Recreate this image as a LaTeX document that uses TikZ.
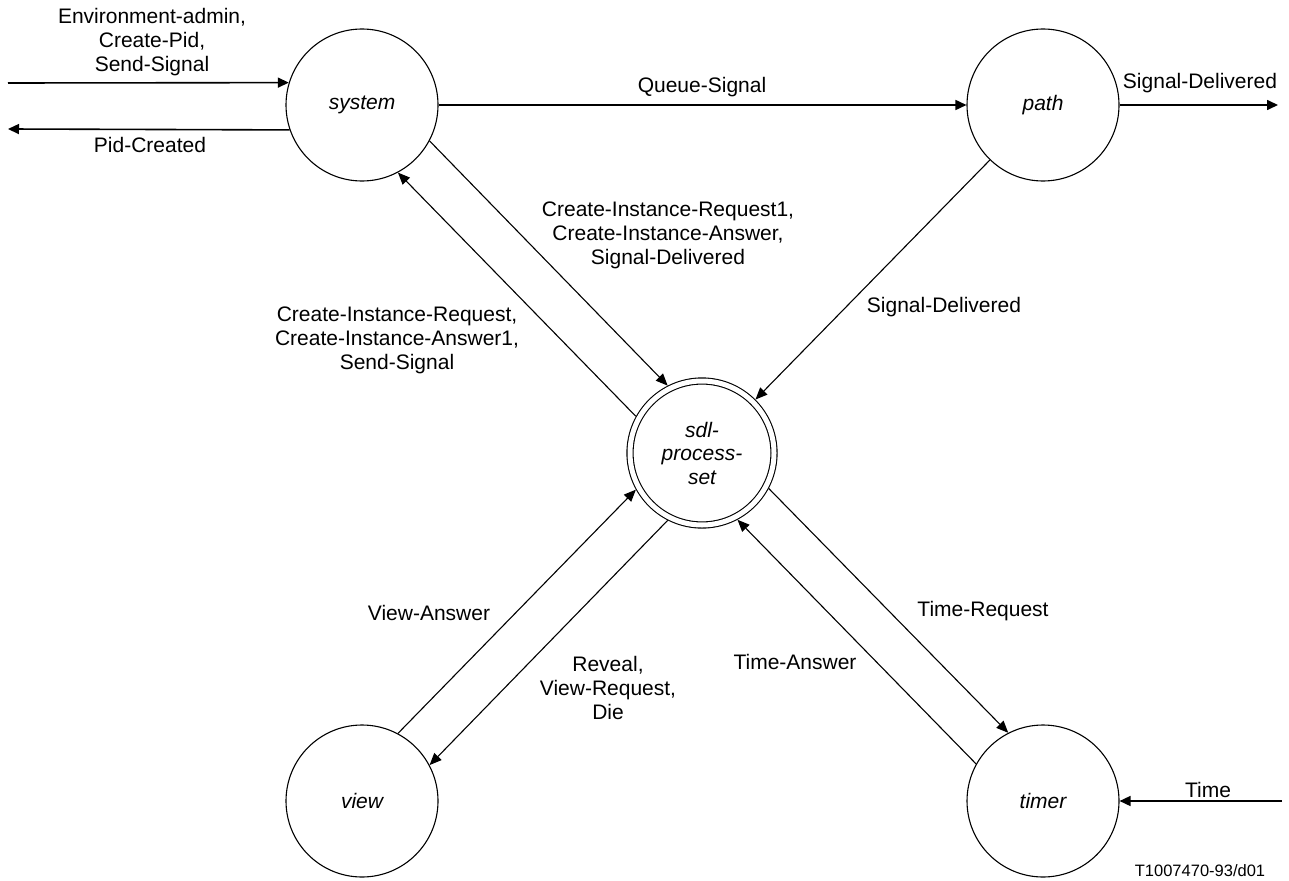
\documentclass[tikz,border=0pt]{standalone}
\usepackage{fontspec}
\setmainfont{Liberation Sans}
\usetikzlibrary{arrows.meta}
\begin{document}
\begin{tikzpicture}[x=1pt,y=-1pt,
  proc/.style={circle,draw,line width=1.1pt,minimum size=152pt,inner sep=0pt,
    font=\fontsize{21}{24}\selectfont\itshape,align=center},
  dproc/.style={circle,draw,line width=1.1pt,double,double distance=5pt,
    minimum size=144pt,inner sep=0pt,outer sep=3.6pt,
    font=\fontsize{21}{23.5}\selectfont\itshape,align=center},
  lbl/.style={font=\fontsize{21}{24}\selectfont,align=center,inner sep=0pt},
  flow/.style={line width=1.1pt,-{Triangle[length=12pt,width=10pt]}},
  hflow/.style={line width=1.6pt,-{Triangle[length=11pt,width=10pt]}},
]
\useasboundingbox (0,0) rectangle (1289,880);

% processes
\node[proc]  (sys)   at (362,105) {system};
\node[proc]  (path)  at (1043,105) {path};
\node[dproc] (sdl)   at (702,453) {sdl-\\process-\\set};
\node[proc]  (view)  at (362,801) {view};
\node[proc]  (timer) at (1043,801) {timer};

% free ends
\coordinate (envin)  at (8,83);
\coordinate (pidout) at (8,129);
\coordinate (sdout)  at (1278,105);
\coordinate (timein) at (1282,801);

% horizontal channels
\draw[hflow] (envin) -- (sys.163.3);
\draw[hflow] (sys.-161.7) -- (pidout);
\draw[hflow] (sys.east) -- (path.west);
\draw[hflow] (path.east) -- (sdout);
\draw[hflow] (timein) -- (timer.east);

% diagonal channels
\draw[flow] (sys.-28.6) -- (sdl.117.4);
\draw[flow] (sdl.151.4) -- (sys.-62.6);
\draw[flow] (path.-134.5) -- (sdl.45.5);
\draw[flow] (view.62.75) -- (sdl.-151.25);
\draw[flow] (sdl.-117.25) -- (view.28.75);
\draw[flow] (sdl.-28.66) -- (timer.117.34);
\draw[flow] (timer.151.34) -- (sdl.-62.66);

% labels
\node[lbl] (lenv)  at (152,42)  {Environment-admin,\\Create-Pid,\\Send-Signal};
\node[lbl] (lpid)  at (150,145) {Pid-Created};
\node[lbl] (lq)    at (702,87)  {Queue-Signal};
\node[lbl] (lsd)   at (1200,83) {Signal-Delivered};
\node[lbl] (lcir1) at (668,235) {Create-Instance-Request1,\\Create-Instance-Answer,\\Signal-Delivered};
\node[lbl] (lcir)  at (397,340) {Create-Instance-Request,\\Create-Instance-Answer1,\\Send-Signal};
\node[lbl] (lsd2)  at (944,307) {Signal-Delivered};
\node[lbl] (lva)   at (429,613) {View-Answer};
\node[lbl] (lrev)  at (608,688) {Reveal,\\View-Request,\\Die};
\node[lbl] (ltr)   at (983,611) {Time-Request};
\node[lbl] (lta)   at (795,662) {Time-Answer};
\node[lbl] (ltime) at (1208,790) {Time};
\node[lbl,font=\fontsize{16.5}{19}\selectfont] (lref) at (1200,871) {T1007470-93/d01};
\end{tikzpicture}
\end{document}
